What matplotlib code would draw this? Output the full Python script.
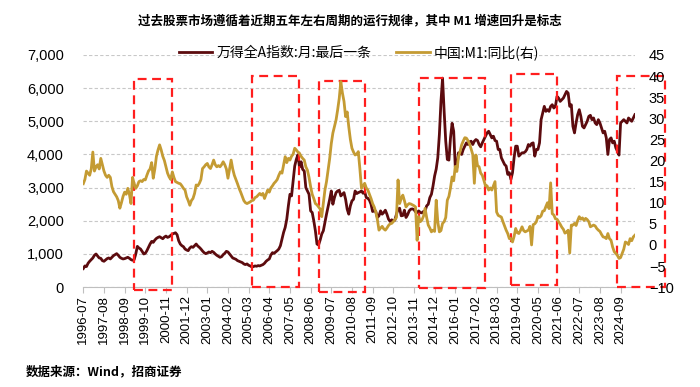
import numpy as np
import pandas as pd
import matplotlib
matplotlib.use('Agg')
import matplotlib.pyplot as plt
from matplotlib.patches import Rectangle
from matplotlib.ticker import FuncFormatter

plt.rcParams['font.family'] = ['Liberation Sans', 'Noto Sans CJK SC', 'DejaVu Sans']
CJK = ['Noto Sans CJK SC', 'DejaVu Sans']

# 万得全A指数 月末值, 1996-07 .. 2025-06
wind_a = [
    560, 640, 620, 720, 780, 830,
    880, 960, 1000, 940, 880, 870, 800, 780, 820, 860, 880, 850,
    900, 950, 980, 1010, 960, 900, 870, 850, 860, 880, 900, 870,
    830, 810, 830, 1000, 1230, 1180, 1150, 1080, 1000, 1020, 1100, 1200,
    1300, 1380, 1350, 1420, 1470, 1500, 1520, 1490, 1460, 1510, 1540, 1500,
    1520, 1560, 1600, 1620, 1640, 1580, 1400, 1300, 1250, 1220, 1150, 1120,
    1100, 1180, 1220, 1200, 1250, 1300, 1240, 1200, 1150, 1090, 1040, 1010,
    1030, 1060, 1040, 1080, 1050, 1000, 960, 930, 900, 920, 980, 1020,
    1080, 1060, 1000, 940, 880, 860, 840, 800, 780, 760, 740, 700,
    680, 700, 660, 640, 610, 620, 640, 630, 650, 640, 660, 680,
    720, 780, 820, 850, 970, 1040, 1020, 1060, 1100, 1150, 1250, 1450,
    1650, 1800, 2050, 2450, 2800, 2750, 3200, 3650, 3850, 3990, 3620, 3780,
    3550, 3500, 3000, 2900, 2800, 2300, 2250, 2000, 1700, 1300, 1270, 1420,
    1600, 1700, 1950, 2200, 2420, 2650, 2900, 2500, 2700, 2850, 2900, 2920,
    2750, 2800, 2850, 2650, 2350, 2200, 2450, 2600, 2650, 2900, 2820, 2850,
    2870, 2900, 2830, 2880, 2700, 2680, 2620, 2500, 2280, 2300, 2280, 2100,
    2150, 2300, 2200, 2250, 2320, 2200, 2050, 1980, 2030, 2000, 2020, 2200,
    2350, 2380, 2150, 2160, 2320, 2100, 2180, 2300, 2350, 2360, 2340, 2270,
    2250, 2300, 2250, 2240, 2280, 2300, 2450, 2500, 2700, 2800, 3050, 3350,
    3560, 3900, 4600, 5600, 6300, 5300, 4400, 3850, 3830, 4500, 4940, 4700,
    3630, 3600, 4050, 4050, 4000, 4150, 4250, 4350, 4300, 4380, 4400, 4300,
    4400, 4450, 4420, 4300, 4230, 4350, 4450, 4550, 4650, 4700, 4600, 4500,
    4550, 4420, 4400, 4150, 4150, 3900, 3800, 3700, 3650, 3400, 3450, 3250,
    3450, 3900, 4250, 4250, 3950, 4000, 4050, 4050, 4080, 4150, 4300, 4250,
    4330, 4350, 3950, 4150, 4150, 4350, 5050, 5250, 5450, 5300, 5350, 5300,
    5450, 5500, 5400, 5450, 5750, 5700, 5600, 5650, 5700, 5800, 5900, 5850,
    5450, 5500, 4850, 4650, 4950, 5200, 5350, 5150, 4850, 4800, 4900, 5000,
    5150, 5180, 5050, 5100, 4950, 4900, 5050, 4950, 4800, 4650, 4700, 4500,
    4000, 4450, 4500, 4350, 4400, 4200, 4100, 3980, 4950, 5000, 5050, 5000,
    4950, 5100, 5050, 5000, 5100, 5200,
]

# 中国 M1 同比 (%), 右轴
m1_yoy = [
    14.5, 15.5, 17.5, 17.0, 16.5, 18.0,
    22.0, 17.5, 18.5, 19.0, 18.0, 20.5, 19.0, 17.5, 16.5, 16.0, 16.5, 16.0,
    13.8, 12.6, 12.0, 11.4, 10.5, 8.7, 10.0, 11.5, 12.5, 12.0, 13.4, 12.0,
    9.8, 16.0, 14.5, 13.4, 14.0, 15.0, 15.2, 15.0, 15.5, 15.4, 16.5, 17.5,
    18.0, 19.5, 15.8, 18.0, 21.0, 22.5, 23.7, 22.5, 21.0, 20.0, 18.5, 17.0,
    16.1, 15.5, 17.3, 16.0, 15.0, 14.8, 14.6, 14.5, 14.0, 13.4, 13.0, 11.4,
    10.5, 9.4, 10.5, 11.0, 12.2, 14.2, 14.0, 14.6, 15.5, 18.1, 18.5, 19.0,
    19.3, 18.5, 18.1, 19.0, 20.1, 19.0, 18.5, 18.8, 18.5, 19.0, 19.7, 19.0,
    18.0, 15.8, 18.0, 20.1, 18.0, 16.5, 15.5, 14.5, 13.4, 12.5, 11.5, 10.5,
    10.0, 9.8, 10.0, 10.2, 10.5, 10.6, 11.2, 11.4, 11.8, 12.2, 11.8, 12.2,
    11.0, 12.0, 13.0, 12.5, 13.5, 14.0, 14.6, 15.0, 15.5, 16.5, 17.3, 17.0,
    19.0, 20.9, 19.5, 20.5, 20.1, 21.0, 21.5, 22.9, 22.5, 22.0, 21.7, 21.0,
    20.5, 20.1, 18.5, 17.7, 16.0, 13.8, 12.0, 11.0, 9.8, 9.5, 9.0, 8.5,
    6.7, 9.8, 13.0, 15.0, 17.7, 20.5, 24.0, 26.5, 28.0, 29.6, 32.0, 34.7,
    38.7, 36.0, 34.0, 30.4, 31.5, 28.0, 25.0, 22.9, 22.0, 21.3, 21.5, 22.1,
    18.0, 13.4, 14.0, 14.6, 13.5, 13.0, 12.0, 11.0, 9.8, 9.0, 7.8, 6.0,
    3.5, 4.0, 4.4, 3.8, 3.5, 4.0, 4.6, 5.0, 5.1, 5.5, 6.0, 6.5,
    15.4, 9.8, 11.0, 11.8, 10.5, 9.0, 9.5, 9.8, 9.7, 9.5, 9.3, 9.0,
    1.1, 6.7, 5.5, 5.9, 6.8, 8.65, 6.5, 4.7, 4.0, 3.1, 3.5, 3.2,
    10.6, 5.5, 3.1, 3.4, 5.1, 5.5, 6.5, 10.6, 11.5, 13.5, 16.1, 15.2,
    18.6, 17.4, 20.9, 22.1, 23.7, 24.6, 25.4, 25.3, 24.7, 23.9, 22.7, 21.4,
    14.6, 21.3, 18.8, 18.5, 17.0, 16.5, 15.3, 14.0, 14.0, 13.0, 13.5, 13.0,
    14.0, 15.0, 7.8, 7.0, 6.8, 6.6, 5.5, 4.5, 3.5, 2.7, 1.5, 1.5,
    0.7, 2.0, 3.9, 2.9, 2.7, 3.4, 4.3, 3.4, 3.1, 3.3, 3.5, 4.4,
    0.0, 4.8, 5.0, 5.5, 6.8, 6.5, 6.9, 8.0, 8.1, 9.1, 10.0, 8.6,
    14.7, 7.4, 7.1, 6.2, 6.1, 5.5, 4.9, 4.2, 3.7, 2.8, 3.0, 3.5,
    -1.9, 4.7, 4.7, 5.1, 4.6, 5.8, 6.7, 6.1, 6.4, 5.8, 6.3, 6.0,
    5.5, 4.3, 4.5, 4.7, 4.5, 3.9, 3.5, 3.2, 2.5, 1.9, 1.8, 1.5,
    2.7, 1.5, 1.1, -0.5, -1.6, -2.0, -2.5, -3.2, -3.0, -2.0, -1.0, 0.7,
    0.5, 0.1, 1.5, 1.0, 1.9, 2.3,
]

months = pd.period_range('1996-07', periods=len(wind_a), freq='M')
tick_step = 13

# 红色虚线框: 起止月份, 左轴数值上下沿
boxes = [
    ('1999-03', '2001-03', -90, 6275),
    ('2005-05', '2007-11', 0, 6366),
    ('2008-11', '2011-04', -150, 6200),
    ('2014-02', '2017-08', -40, 6300),
    ('2018-12', '2021-05', 60, 6420),
    ('2024-07', '2027-01', 0, 6366),
]

title = '过去股票市场遵循着近期五年左右周期的运行规律，其中 M1 增速回升是标志'
source = '数据来源：Wind，招商证券'
label_a = '万得全A指数:月:最后一条'
label_m1 = '中国:M1:同比(右)'


def month_pos(s):
    p = pd.Period(s, freq='M')
    return (p.year - months[0].year) * 12 + p.month - months[0].month


fig = plt.figure(figsize=(7, 3.87), dpi=100)
ax = fig.add_axes([0.119, 0.258, 0.788, 0.600])
ax2 = ax.twinx()

x = np.arange(len(months))
la, = ax.plot(x, wind_a, color='#5C0B0E', lw=2.0, zorder=3)
lm, = ax2.plot(x, m1_yoy, color='#C49B33', lw=2.0, zorder=2)

ax.set_xlim(0, len(months) - 1)
ax.set_ylim(0, 7000)
ax2.set_ylim(-10, 45)
ax.set_yticks(np.arange(0, 7001, 1000))
ax2.set_yticks(np.arange(-10, 46, 5))
ax.yaxis.set_major_formatter(FuncFormatter(lambda v, p: f'{int(v):,}'))

ticks = x[::tick_step]
ax.set_xticks(ticks)
ax.set_xticklabels([months[i].strftime('%Y-%m') for i in ticks], rotation=90)

ax.grid(axis='y', color='#C8C8C8', linestyle=(0, (3, 2)), lw=0.8)
ax.set_axisbelow(True)
for a in (ax, ax2):
    for s in ('top', 'right', 'left'):
        a.spines[s].set_visible(False)
    a.spines['bottom'].set_visible(False)
ax.spines['bottom'].set_visible(True)
ax.spines['bottom'].set_color('#BFBFBF')
ax.tick_params(axis='x', length=4, color='#BFBFBF', labelsize=9.5, pad=2)
ax.tick_params(axis='y', length=0, labelsize=10.5, pad=14)
ax2.tick_params(axis='y', length=0, labelsize=10.5, pad=10)

# 红色虚线框
for start, end, lo, hi in boxes:
    x0 = month_pos(start)
    x1 = month_pos(end)
    r = Rectangle((x0, lo), x1 - x0, hi - lo, fill=False, edgecolor='#FF1E1E',
                  lw=1.6, linestyle=(0, (4, 2.5)), clip_on=False, zorder=5)
    ax.add_patch(r)

ax.legend([la, lm], [label_a, label_m1], loc='lower center',
          bbox_to_anchor=(0.5, 0.955), ncol=2, frameon=False,
          prop={'family': CJK, 'size': 10}, handlelength=2.4,
          handletextpad=0.3, columnspacing=1.8, borderaxespad=0)

fig.text(0.5, 0.945, title, ha='center', va='center', fontsize=9,
         fontweight='bold', family=CJK)
fig.text(0.037, 0.038, source, ha='left', va='center', fontsize=9,
         fontweight='bold', family=CJK)

fig.savefig('out.png', dpi=100)
